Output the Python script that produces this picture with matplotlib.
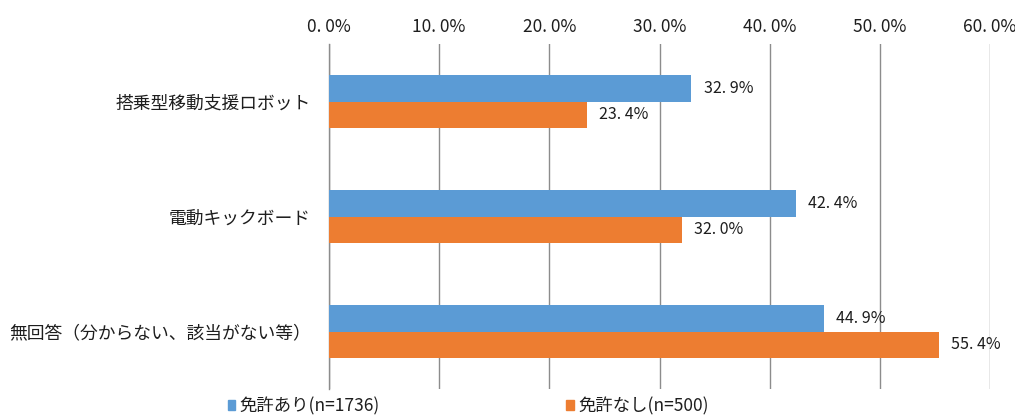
import matplotlib
matplotlib.use('Agg')
from matplotlib import pyplot as plt
from matplotlib.patches import Patch
import numpy as np

plt.rcParams['font.family'] = ['Noto Sans CJK JP', 'DejaVu Sans']

# data
categories = ['搭乗型移動支援ロボット', '電動キックボード', '無回答（分からない、該当がない等）']
licensed = [32.9, 42.4, 44.9]
unlicensed = [23.4, 32.0, 55.4]
series_names = ['免許あり(n=1736)', '免許なし(n=500)']
x_ticks = [0, 10, 20, 30, 40, 50, 60]

blue = '#5B9BD5'
orange = '#ED7D31'
grid_color = '#8C8C8C'
text_color = '#1E1E1E'


def pct(v):
    # wide-dot style used in the original report
    return f'{v:.1f}%'.replace('.', '. ')


fig = plt.figure(figsize=(10.15, 4.16), dpi=100)
ax = fig.add_axes([329 / 1015, 1 - 389 / 416, (990 - 329) / 1015, (389 - 44) / 416])

y = np.arange(len(categories))
h = 0.23
ax.barh(y - h / 2, licensed, height=h, color=blue, zorder=3)
ax.barh(y + h / 2, unlicensed, height=h, color=orange, zorder=3)

# value labels
for yi, v in zip(y - h / 2, licensed):
    ax.text(v + 1.1, yi, pct(v), va='center', ha='left', fontsize=11.5, color=text_color, zorder=4)
for yi, v in zip(y + h / 2, unlicensed):
    ax.text(v + 1.1, yi, pct(v), va='center', ha='left', fontsize=11.5, color=text_color, zorder=4)

ax.set_xlim(0, 60)
ax.set_ylim(len(categories) - 0.5, -0.5)
ax.set_xticks(x_ticks)
ax.set_xticklabels([pct(t) for t in x_ticks], fontsize=12.5, color=text_color)
ax.xaxis.tick_top()
ax.tick_params(axis='x', length=0, pad=6)
ax.set_yticks(y)
ax.set_yticklabels(categories, fontsize=12.8, color=text_color)
ax.tick_params(axis='y', length=0, pad=13)

ax.grid(axis='x', color=grid_color, linewidth=1, zorder=0)
for side in ['top', 'right', 'bottom']:
    ax.spines[side].set_visible(False)
ax.spines['left'].set_color(grid_color)
ax.spines['left'].set_linewidth(1)

handles = [Patch(color=blue), Patch(color=orange)]
fig.legend(handles, series_names, loc='center', bbox_to_anchor=(468 / 1015, 1 - 406 / 416),
           ncol=2, frameon=False, fontsize=12.5, labelcolor=text_color,
           handlelength=0.45, handleheight=0.45, handletextpad=0.25,
           columnspacing=10.7, borderaxespad=0)

fig.savefig('out.png', dpi=100)
